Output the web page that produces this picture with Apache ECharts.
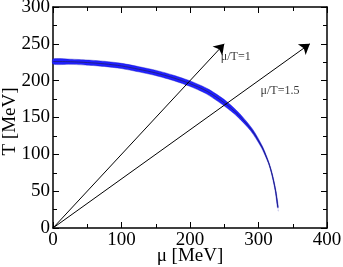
<!DOCTYPE html>
<html><head><meta charset="utf-8">
<script src="https://cdn.jsdelivr.net/npm/echarts@6/dist/echarts.min.js"></script>
<style>html,body{margin:0;padding:0;background:#fff}#c{width:343px;height:267px}</style>
</head><body><div id="c"></div>
<script>
// transition band centreline (mu, T) in MeV
const muBand = [0, 25, 50, 75, 100, 125, 150, 175, 200, 225, 250, 270, 290, 305, 315, 320, 325, 329];
const TBand  = [226, 225.7, 224.6, 222.8, 220, 215.5, 210.5, 204, 196, 185.5, 170, 154, 133, 110, 88, 72, 50, 23];
// arrows mu/T = const, from origin
const arrowNames = ['μ/T=1', 'μ/T=1.5'];
const arrowEndMu = [250, 375];
const arrowEndT  = [250, 250];
// label anchors
const labelMu = [245, 303];
const labelT  = [233, 186];
const xTicks = [0, 100, 200, 300, 400];
const yTicks = [0, 50, 100, 150, 200, 250, 300];

const pts = muBand.map((m, i) => [m, TBand[i]]);
const font = '"Liberation Serif", "DejaVu Serif", serif';

// band half-width in pixels as a function of mu (tapering toward the end)
function halfWidth(mu) {
  if (mu <= 250) return 2.6;
  if (mu >= 316) return 0.4;
  return 2.6 - (mu - 250) / 66 * 2.2;
}

const axisCommon = {
  axisLine: {show: true, onZero: false, lineStyle: {color: '#000', width: 1.5}},
  axisTick: {show: true, inside: true, length: 6, lineStyle: {color: '#000', width: 1}},
  minorTick: {show: true, splitNumber: 2, length: 4, lineStyle: {color: '#000', width: 1}},
  splitLine: {show: false}
};

const chart = echarts.init(document.getElementById('c'), null, {renderer: 'canvas'});
chart.setOption({
  animation: false,
  grid: {left: 53, right: 16, top: 7, bottom: 39, containLabel: false, outerBoundsMode: 'none'},
  xAxis: [
    Object.assign({type: 'value', min: xTicks[0], max: xTicks[xTicks.length - 1], interval: 100, position: 'bottom',
      name: 'μ [MeV]', nameLocation: 'middle', nameGap: 19, nameMoveOverlap: false,
      nameTextStyle: {fontFamily: font, fontSize: 19, color: '#000', verticalAlign: 'top'},
      axisLabel: {fontFamily: font, fontSize: 19, color: '#000', margin: 3}}, axisCommon),
    Object.assign({type: 'value', min: xTicks[0], max: xTicks[xTicks.length - 1], interval: 100, position: 'top',
      axisLabel: {show: false}}, axisCommon)
  ],
  yAxis: [
    Object.assign({type: 'value', min: yTicks[0], max: yTicks[yTicks.length - 1], interval: 50, position: 'left',
      name: 'T [MeV]', nameLocation: 'middle', nameGap: 33, nameRotate: 90, nameMoveOverlap: false,
      nameTextStyle: {fontFamily: font, fontSize: 19, color: '#000', padding: [0, 8, 0, 0]},
      axisLabel: {fontFamily: font, fontSize: 19, color: '#000', margin: 3}}, axisCommon),
    Object.assign({type: 'value', min: yTicks[0], max: yTicks[yTicks.length - 1], interval: 50, position: 'right',
      axisLabel: {show: false}}, axisCommon)
  ],
  series: [
    {type: 'custom', data: [0], z: 3,
      renderItem: function (params, api) {
        const c = pts.map(p => api.coord(p));
        const up = [], lo = [];
        for (let i = 0; i < c.length; i++) {
          const a = c[Math.max(0, i - 1)], b = c[Math.min(c.length - 1, i + 1)];
          let dx = b[0] - a[0], dy = b[1] - a[1];
          const len = Math.hypot(dx, dy) || 1;
          const nx = -dy / len, ny = dx / len;
          const h = halfWidth(pts[i][0]);
          up.push([c[i][0] + nx * h, c[i][1] + ny * h]);
          lo.push([c[i][0] - nx * h, c[i][1] - ny * h]);
        }
        return {type: 'polygon', shape: {points: up.concat(lo.reverse()), smooth: 0.25},
          style: {fill: '#2020ff', stroke: '#1818c0', lineWidth: 0.4}};
      }},
    {type: 'line', data: pts, showSymbol: false, smooth: 0.3, z: 4,
      lineStyle: {color: '#202070', width: 0.8}},
    {type: 'scatter', data: [pts[pts.length - 1]], symbol: 'emptyCircle', symbolSize: 5, z: 5,
      itemStyle: {color: '#fff', borderColor: '#333', borderWidth: 1}},
    {type: 'lines', coordinateSystem: 'cartesian2d', symbol: ['none', 'arrow'], symbolSize: 10,
      lineStyle: {color: '#000', width: 1, opacity: 1}, z: 6,
      data: arrowEndMu.map((m, i) => ({coords: [[0, 0], [m, arrowEndT[i]]]}))},
    {type: 'scatter', symbolSize: 0, z: 7,
      data: labelMu.map((m, i) => ({value: [m, labelT[i]], name: arrowNames[i]})),
      label: {show: true, position: 'right', distance: 0, formatter: p => p.name,
        fontFamily: font, fontSize: 12, color: '#000'}}
  ]
});
</script></body></html>
